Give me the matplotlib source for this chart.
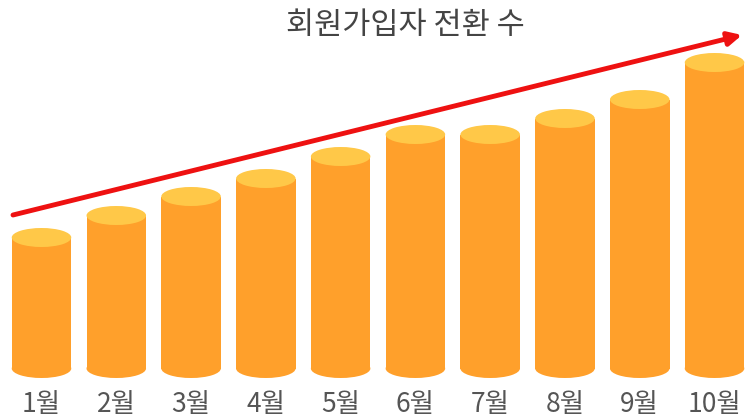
import matplotlib
matplotlib.use("Agg")
import matplotlib.pyplot as plt
from matplotlib.patches import Ellipse, Rectangle
from matplotlib.transforms import blended_transform_factory

plt.rcParams['font.family'] = ['Noto Sans CJK KR', 'DejaVu Sans']

title = "회원가입자 전환 수"
months = ["1월", "2월", "3월", "4월", "5월", "6월", "7월", "8월", "9월", "10월"]
values = [131, 153, 172, 190, 212, 234, 234, 250, 269, 306]

body_color = "#FFA02B"
top_color = "#FFC848"
arrow_color = "#EE1111"

W, H = 754, 417
fig = plt.figure(figsize=(W / 100, H / 100), dpi=100)
ax = fig.add_axes([0, 0, 1, 1])
ax.set_axis_off()

unit = 74.78          # px per category
x0_px = 41.5          # px of first category center
base_px = 368.5       # px (from top) of baseline ellipse center
ax.set_xlim(-x0_px / unit, (W - x0_px) / unit)
ax.set_ylim(-(H - base_px), base_px)

bw = 0.796
eh = 19

for i, v in enumerate(values):
    ax.add_patch(Ellipse((i, 0), bw, eh, facecolor=body_color, edgecolor='none', zorder=2))
    ax.add_patch(Rectangle((i - bw / 2, 0), bw, v, facecolor=body_color, edgecolor='none', zorder=2))
    ax.add_patch(Ellipse((i, v), bw, eh, facecolor=top_color, edgecolor='none', zorder=3))

trans = blended_transform_factory(ax.transData, ax.transAxes)
for i, m in enumerate(months):
    ax.text(i, 1 - 404 / H, m, transform=trans, ha='center', va='center',
            fontsize=19, color='#555555')

ax.annotate("", xy=(742 / W, 1 - 35 / H), xytext=(13 / W, 1 - 215 / H),
            xycoords='axes fraction', textcoords='axes fraction',
            arrowprops=dict(arrowstyle='-|>', color=arrow_color, lw=3.5,
                            mutation_scale=20, shrinkA=0, shrinkB=0),
            zorder=5)

fig.text(405 / W, 1 - 25 / H, title, ha='center', va='center', fontsize=22, color='#444444')

fig.savefig("out.png", dpi=100, facecolor='white')
